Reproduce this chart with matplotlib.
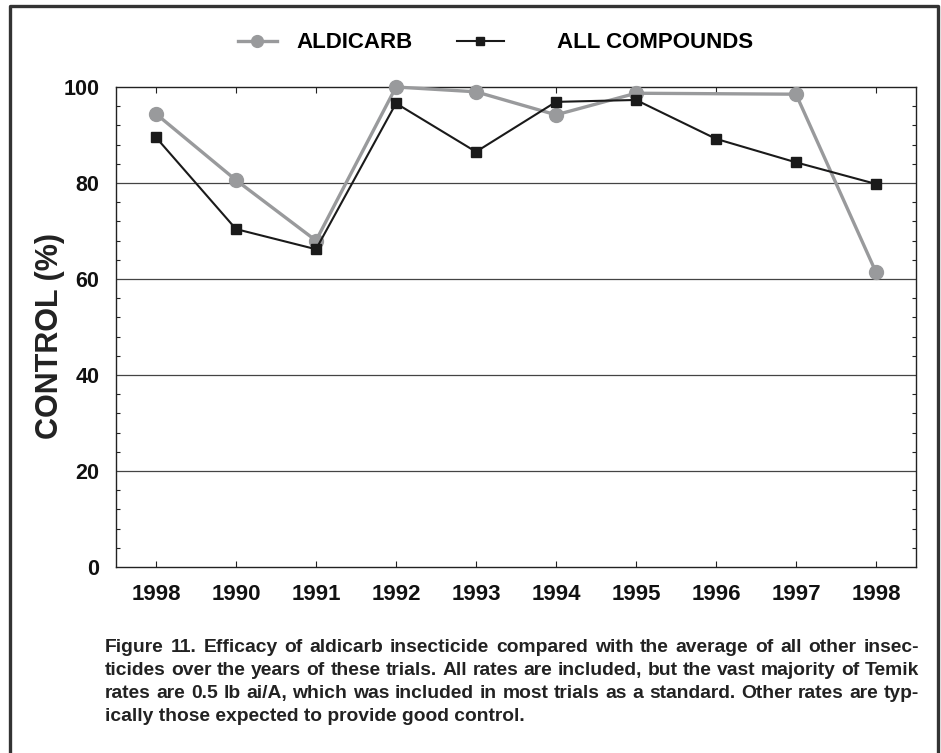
import matplotlib
matplotlib.use('Agg')
import matplotlib.pyplot as plt
import numpy as np

plt.rcParams['font.family'] = ['Liberation Sans', 'DejaVu Sans']
plt.rcParams['font.weight'] = 'bold'

years = ['1998', '1990', '1991', '1992', '1993', '1994', '1995', '1996', '1997', '1998']
# aldicarb has no 1996 value
aldicarb_idx = [0, 1, 2, 3, 4, 5, 6, 8, 9]
aldicarb = [94.4, 80.6, 68.0, 100.0, 99.0, 94.2, 98.7, 98.5, 61.4]
all_compounds = [89.5, 70.4, 66.2, 96.6, 86.5, 96.9, 97.3, 89.2, 84.3, 79.8]

caption = ["Figure 11. Efficacy of aldicarb insecticide compared with the average of all other insec-",
           "ticides over the years of these trials. All rates are included, but the vast majority of Temik",
           "rates are 0.5 lb ai/A, which was included in most trials as a standard. Other rates are typ-",
           "ically those expected to provide good control."]

W, H = 941, 753
fig = plt.figure(figsize=(W / 100, H / 100), dpi=100)
ax = fig.add_axes([116 / W, 1 - 567 / H, 800 / W, 480 / H])

ind = np.arange(len(years))
gray = '#999a9c'
dark = '#1a1a1a'
p1, = ax.plot(aldicarb_idx, aldicarb, color=gray, lw=2.4, marker='o', ms=10,
              mec=gray, mfc=gray, zorder=3, clip_on=False)
p2, = ax.plot(ind, all_compounds, color=dark, lw=1.5, marker='s', ms=7,
              mec=dark, mfc=dark, zorder=4, clip_on=False)

ax.set_xlim(-0.5, 9.5)
ax.set_ylim(0, 100)
ax.set_xticks(ind)
ax.set_xticklabels(years)
ax.set_yticks(np.arange(0, 101, 20))
ax.set_yticks(np.arange(0, 101, 4), minor=True)
for y in (20, 40, 60, 80):
    ax.axhline(y, color='#444444', lw=0.9, zorder=1)
ax.tick_params(axis='both', which='both', direction='in', colors='#222222')
ax.tick_params(axis='y', which='major', length=0, labelsize=15.5, pad=12, right=True)
ax.tick_params(axis='y', which='minor', length=3, width=0.8, right=True)
ax.tick_params(axis='x', which='major', length=4, width=0.8, top=True, labelsize=16, pad=12)
for lab in ax.get_xticklabels() + ax.get_yticklabels():
    lab.set_fontweight('bold')
    lab.set_color('#111111')
for s in ax.spines.values():
    s.set_color('#222222')
    s.set_linewidth(1.0)

fig.text(50 / W, 1 - 336 / H, 'CONTROL (%)', rotation=90, ha='center', va='center',
         fontsize=22, fontweight='bold', color='#222222')

leg_prop = {'size': 16, 'weight': 'bold'}
fig.legend([p1], ['ALDICARB'], loc='center left', bbox_to_anchor=(238 / W, 1 - 43 / H),
           frameon=False, borderpad=0, borderaxespad=0, handlelength=1.75, handletextpad=0.9,
           prop=leg_prop, markerscale=0.85)
fig.legend([p2], ['ALL COMPOUNDS'], loc='center left', bbox_to_anchor=(457 / W, 1 - 43 / H),
           frameon=False, borderpad=0, borderaxespad=0, handlelength=2.1, handletextpad=2.4,
           prop=leg_prop, markerscale=0.85)

# justified caption: last line left aligned, others spread word by word
x0, x1 = 105, 919
cap_size = 13.9
renderer = fig.canvas.get_renderer()
for i, line in enumerate(caption):
    yy = 1 - (647 + i * 23.2) / H
    if i == len(caption) - 1:
        fig.text(x0 / W, yy, line, ha='left', va='center', fontsize=cap_size,
                 fontweight='bold', color='#222222')
        continue
    words = line.split(' ')
    txts = [fig.text(0, yy, w, ha='left', va='center', fontsize=cap_size,
                     fontweight='bold', color='#222222') for w in words]
    widths = [t.get_window_extent(renderer).width for t in txts]
    gap = (x1 - x0 - sum(widths)) / (len(words) - 1)
    x = x0
    for t, wd in zip(txts, widths):
        t.set_x(x / W)
        x += wd + gap

# outer frame, open at the bottom
fig.add_artist(plt.Line2D([10 / W, 10 / W, 938 / W, 938 / W], [0, 1 - 6 / H, 1 - 6 / H, 0],
                          color='#333333', lw=2.4))

fig.savefig('out.png', dpi=100)
